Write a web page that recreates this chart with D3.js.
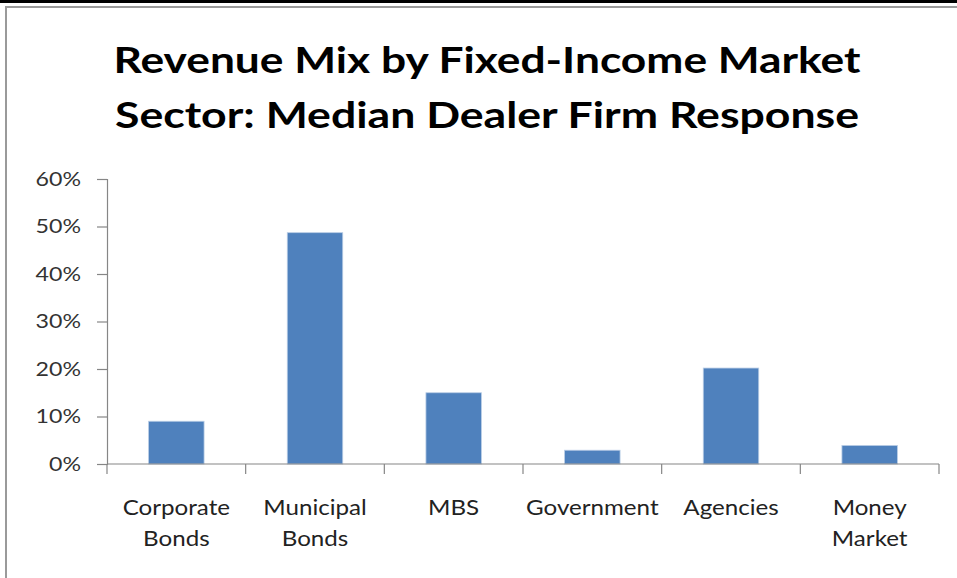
<!DOCTYPE html>
<html>
<head>
<meta charset="utf-8">
<script src="https://cdn.jsdelivr.net/npm/d3@7"></script>
<style>
  html, body { margin: 0; padding: 0; background: #fff; }
  svg { display: block; }
</style>
</head>
<body>
<script>
// Revenue mix by fixed-income market sector (median dealer firm response)
const categories = [["Corporate", "Bonds"], ["Municipal", "Bonds"], ["MBS"], ["Government"], ["Agencies"], ["Money", "Market"]];
const values = [0.09, 0.487, 0.15, 0.029, 0.202, 0.039];
const yTicks = [0, 0.1, 0.2, 0.3, 0.4, 0.5, 0.6];
const titleLines = ["Revenue Mix by Fixed-Income Market", "Sector: Median Dealer Firm Response"];

const W = 957, H = 578;
const svg = d3.select("body").append("svg").attr("width", W).attr("height", H);
const font = "Lato, 'Open Sans', sans-serif";
const stretch = 1.15; // wide lettering

// page rule and chart frame
svg.append("rect").attr("x", 0).attr("y", 0).attr("width", W).attr("height", 3).attr("fill", "#000");
svg.append("rect").attr("x", 5).attr("y", 6).attr("width", W - 5).attr("height", 2).attr("fill", "#9a9a9a");
svg.append("rect").attr("x", 5).attr("y", 6).attr("width", 2).attr("height", H - 6).attr("fill", "#9a9a9a");

// title
svg.append("g").selectAll("text").data(titleLines).join("text")
  .attr("x", 487).attr("y", (d, i) => 73 + i * 55)
  .attr("text-anchor", "middle")
  .attr("font-family", font).attr("font-weight", 700).attr("font-size", 37)
  .attr("textLength", (d, i) => i === 0 ? 747 : 744).attr("lengthAdjust", "spacingAndGlyphs")
  .attr("fill", "#000")
  .text(d => d);

const x = d3.scaleBand().domain(d3.range(categories.length)).range([107, 939]).paddingInner(0.6).paddingOuter(0.3);
const xb = d3.scaleBand().domain(d3.range(categories.length)).range([107, 939]);
const y = d3.scaleLinear().domain([0, 0.6]).range([464, 179]);

// y axis
const yAxis = svg.append("g").attr("transform", "translate(107,0)")
  .call(d3.axisLeft(y).tickValues(yTicks).tickFormat(d3.format(".0%")).tickSize(10).tickPadding(16));
yAxis.select(".domain").attr("stroke", "#868686").attr("stroke-width", 1.2);
yAxis.selectAll(".tick line").attr("stroke", "#868686").attr("stroke-width", 1.2);
yAxis.selectAll("text").attr("font-family", font).attr("font-size", 19).attr("fill", "#333")
  .attr("x", null).attr("transform", `translate(-26,0) scale(1.22,1)`);

// bars
svg.append("g").selectAll("rect").data(values).join("rect")
  .attr("x", (d, i) => x(i)).attr("width", x.bandwidth())
  .attr("y", d => y(d)).attr("height", d => y(0) - y(d))
  .attr("fill", "#4f81bd").attr("stroke", "#b9cde5").attr("stroke-width", 0.8);

// x axis
const xAxis = svg.append("g").attr("transform", "translate(0,464)");
xAxis.append("line").attr("x1", 107).attr("x2", 939).attr("stroke", "#868686").attr("stroke-width", 1.2);
xAxis.selectAll("line.tk").data(d3.range(categories.length + 1)).join("line").attr("class", "tk")
  .attr("x1", i => i < categories.length ? xb(i) : 939).attr("x2", i => i < categories.length ? xb(i) : 939)
  .attr("y1", 0).attr("y2", 10).attr("stroke", "#868686").attr("stroke-width", 1.2);

const labels = svg.append("g").selectAll("text").data(categories).join("text")
  .attr("text-anchor", "middle")
  .attr("transform", (d, i) => `translate(${xb(i) + xb.bandwidth() / 2},0) scale(${stretch},1)`)
  .attr("font-family", font).attr("font-size", 21).attr("fill", "#222");
labels.each(function (d) {
  d3.select(this).selectAll("tspan").data(d).join("tspan")
    .attr("x", 0).attr("y", (t, j) => 515 + j * 31)
    .text(t => t);
});
</script>
</body>
</html>
